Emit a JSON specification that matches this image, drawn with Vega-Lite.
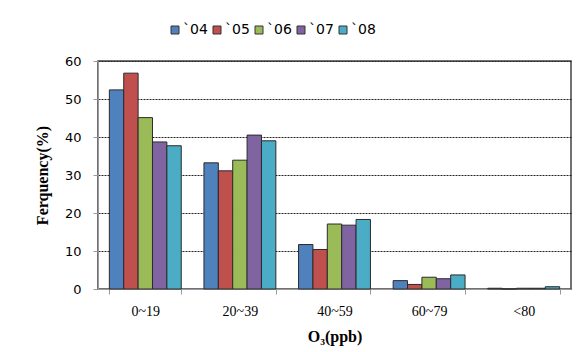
{
  "$schema": "https://vega.github.io/schema/vega-lite/v6.json",
  "autosize": {"type": "none"},
  "padding": {"left": 98, "top": 61, "right": 10, "bottom": 63},
  "width": 473,
  "height": 228,
  "background": "white",
  "data": {
    "values": [
      {"range": "0~19", "year": "`04", "freq": 52.4},
      {"range": "0~19", "year": "`05", "freq": 56.8},
      {"range": "0~19", "year": "`06", "freq": 45.1},
      {"range": "0~19", "year": "`07", "freq": 38.7},
      {"range": "0~19", "year": "`08", "freq": 37.7},
      {"range": "20~39", "year": "`04", "freq": 33.2},
      {"range": "20~39", "year": "`05", "freq": 31.1},
      {"range": "20~39", "year": "`06", "freq": 33.9},
      {"range": "20~39", "year": "`07", "freq": 40.5},
      {"range": "20~39", "year": "`08", "freq": 39.0},
      {"range": "40~59", "year": "`04", "freq": 11.7},
      {"range": "40~59", "year": "`05", "freq": 10.4},
      {"range": "40~59", "year": "`06", "freq": 17.1},
      {"range": "40~59", "year": "`07", "freq": 16.8},
      {"range": "40~59", "year": "`08", "freq": 18.3},
      {"range": "60~79", "year": "`04", "freq": 2.2},
      {"range": "60~79", "year": "`05", "freq": 1.2},
      {"range": "60~79", "year": "`06", "freq": 3.1},
      {"range": "60~79", "year": "`07", "freq": 2.7},
      {"range": "60~79", "year": "`08", "freq": 3.7},
      {"range": "<80", "year": "`04", "freq": 0.2},
      {"range": "<80", "year": "`05", "freq": 0.0},
      {"range": "<80", "year": "`06", "freq": 0.2},
      {"range": "<80", "year": "`07", "freq": 0.2},
      {"range": "<80", "year": "`08", "freq": 0.6}
    ]
  },
  "mark": {"type": "bar", "stroke": "#2b2b2b", "strokeWidth": 1},
  "encoding": {
    "x": {
      "field": "range",
      "type": "nominal",
      "sort": ["0~19", "20~39", "40~59", "60~79", "<80"],
      "scale": {"paddingInner": 0.24, "paddingOuter": 0.12},
      "axis": {
        "title": "O₃(ppb)",
        "titleFont": "Liberation Serif",
        "titleFontSize": 16,
        "titleFontWeight": "bold",
        "titleColor": "#000",
        "titlePadding": 10,
        "labelAngle": 0,
        "labelFont": "Liberation Serif",
        "labelFontSize": 14,
        "labelColor": "#000",
        "labelPadding": 10,
        "tickBand": "extent",
        "tickSize": 5,
        "tickColor": "#999",
        "domainColor": "#999",
        "grid": false
      }
    },
    "xOffset": {
      "field": "year",
      "type": "nominal",
      "scale": {"paddingInner": 0, "paddingOuter": 0}
    },
    "y": {
      "field": "freq",
      "type": "quantitative",
      "scale": {"domain": [0, 60]},
      "axis": {
        "title": "Ferquency(%)",
        "titleFont": "Liberation Serif",
        "titleFontSize": 16,
        "titleFontWeight": "bold",
        "titleColor": "#000",
        "titlePadding": 14,
        "values": [0, 10, 20, 30, 40, 50, 60],
        "labelFont": "DejaVu Sans",
        "labelFontSize": 13,
        "labelColor": "#000",
        "labelPadding": 12,
        "tickSize": 5,
        "tickColor": "#999",
        "domainColor": "#999",
        "grid": true,
        "gridColor": "#222",
        "gridDash": [2, 1],
        "gridWidth": 1
      }
    },
    "color": {
      "field": "year",
      "type": "nominal",
      "scale": {
        "domain": ["`04", "`05", "`06", "`07", "`08"],
        "range": ["#4F81BD", "#C0504D", "#9BBB59", "#8064A2", "#4BACC6"]
      },
      "legend": {
        "title": null,
        "orient": "none",
        "direction": "horizontal",
        "legendX": 70,
        "legendY": -38,
        "symbolType": "square",
        "symbolSize": 64,
        "symbolStrokeColor": "#333",
        "symbolStrokeWidth": 1,
        "symbolOpacity": 1,
        "labelFont": "DejaVu Sans",
        "labelFontSize": 14,
        "labelColor": "#000",
        "labelOffset": 1,
        "columnPadding": 2
      }
    }
  },
  "config": {
    "view": {"stroke": "#444", "strokeWidth": 1.5}
  }
}
